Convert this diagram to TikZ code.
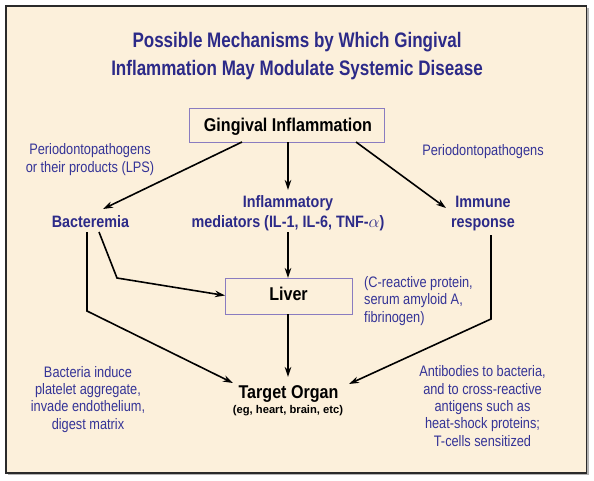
\documentclass[tikz,border=0pt]{standalone}
\usepackage{fontspec}
\setmainfont{Liberation Sans}
\newfontfamily\condT[FakeStretch=0.81]{Liberation Sans}
\newfontfamily\condB[FakeStretch=0.87]{Liberation Sans}
\newfontfamily\condN[FakeStretch=0.84]{Liberation Sans}
\usetikzlibrary{arrows.meta}
\definecolor{cream}{HTML}{FCF0DB}
\definecolor{titleblue}{HTML}{2C2A88}
\definecolor{labblue}{HTML}{353497}
\definecolor{boxline}{HTML}{8A7CC0}
\definecolor{frame}{HTML}{2A2A2A}
\tikzset{
  ttl/.style={font=\condT\bfseries\fontsize{21}{27.5}\selectfont, text=titleblue, align=center, anchor=base, inner sep=0pt},
  boxlab/.style={font=\condB\bfseries\fontsize{18.5}{20}\selectfont, text=black, inner sep=0pt},
  nodelab/.style={font=\condB\bfseries\fontsize{16.5}{20}\selectfont, text=titleblue, align=center, anchor=base, inner sep=0pt},
  note/.style={font=\condN\fontsize{15.2}{17.3}\selectfont, text=labblue, align=center, anchor=base, inner sep=0pt},
  sub/.style={font=\bfseries\fontsize{11.2}{13}\selectfont, text=black, anchor=base, inner sep=0pt},
  arr/.style={draw=black, line width=1.6pt, -{Stealth[length=10pt,width=6.5pt]}},
}
\begin{document}
\begin{tikzpicture}[x=1pt,y=-1pt]
\useasboundingbox (0,0) rectangle (594,480);
\fill[white] (0,0) rectangle (594,480);
% panel
\fill[gray!60] (8,8) rectangle (588.5,475);
\draw[frame, line width=1.3pt, fill=cream] (6,6) rectangle (586.5,473);
% title (base anchor = last line)
\node[ttl] (title) at (297,75) {Possible Mechanisms by Which Gingival\\Inflammation May Modulate Systemic Disease};
% boxes
\draw[boxline, line width=0.9pt, fill=cream] (189,108) rectangle (384,142);
\node[boxlab, anchor=base] (gitext) at (288,131.5) {Gingival Inflammation};
\draw[boxline, line width=0.9pt, fill=cream] (225,278) rectangle (352,314);
\node[boxlab, anchor=base] (lvtext) at (288.5,300.5) {Liver};
% nodes
\node[nodelab] (bac) at (90.5,227) {Bacteremia};
\node[nodelab] (infl) at (288,227) {Inflammatory\\mediators (IL-1, IL-6, TNF-$\alpha$)};
\node[nodelab] (imm) at (483,227) {Immune\\response};
\node[boxlab, anchor=base] (tgt) at (288.5,398) {Target Organ};
\node[sub] (tgtsub) at (288,413) {(eg, heart, brain, etc)};
% notes
\node[note] (n1) at (90,172) {Periodontopathogens\\or their products (LPS)};
\node[note] (n2) at (483,155) {Periodontopathogens};
\node[note, align=left, anchor=base west] (n3) at (364,322) {(C-reactive protein,\\serum amyloid A,\\fibrinogen)};
\node[note] (n4) at (88,429) {Bacteria induce\\platelet aggregate,\\invade endothelium,\\digest matrix};
\node[note] (n5) at (482.5,446) {Antibodies to bacteria,\\and to cross-reactive\\antigens such as\\heat-shock proteins;\\T-cells sensitized};
% connector coordinates
\coordinate (giA) at (242,142);
\coordinate (giB) at (288,142);
\coordinate (giC) at (356,142);
\coordinate (bacT) at (103,209);
\coordinate (inflT) at (288,190);
\coordinate (immT) at (446,208);
\coordinate (inflB) at (288,232);
\coordinate (lvT) at (288,278);
\coordinate (lvL) at (225,295.5);
\coordinate (lvB) at (288,314);
\coordinate (bacB1) at (99,232);
\coordinate (bacK1) at (117,278);
\coordinate (bacB2) at (87,232);
\coordinate (bacK2) at (87,311);
\coordinate (tgtL) at (233,383);
\coordinate (tgtT) at (288,377);
\coordinate (immB) at (491,235);
\coordinate (immK) at (491,319);
\coordinate (tgtR) at (349,384);
% connectors
\draw[arr] (giA) -- (bacT);
\draw[arr] (giB) -- (inflT);
\draw[arr] (giC) -- (immT);
\draw[arr] (inflB) -- (lvT);
\draw[arr] (bacB1) -- (bacK1) -- (lvL);
\draw[arr] (bacB2) -- (bacK2) -- (tgtL);
\draw[arr] (lvB) -- (tgtT);
\draw[arr] (immB) -- (immK) -- (tgtR);
\end{tikzpicture}
\end{document}
